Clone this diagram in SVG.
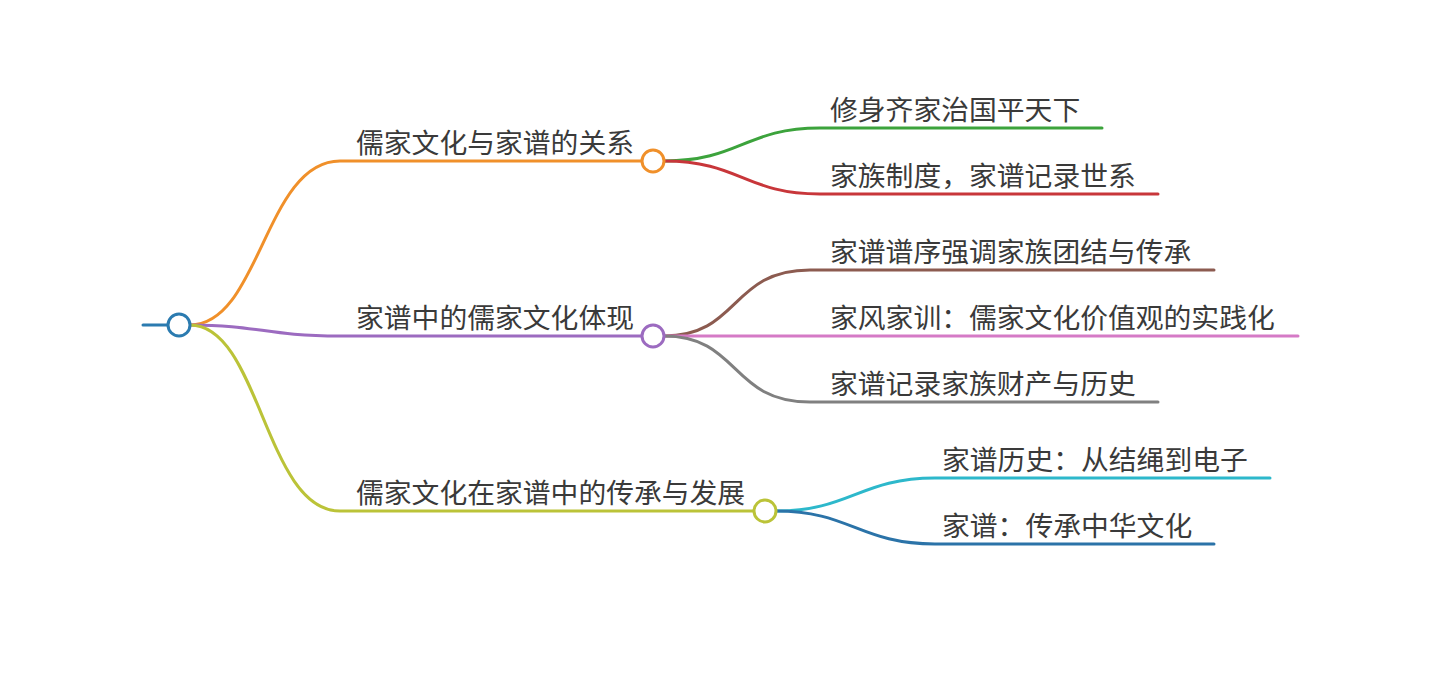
<svg xmlns="http://www.w3.org/2000/svg" width="1440" height="676" viewBox="0 0 1440 676">
<style>
.t{font-family:"Noto Sans CJK SC","Noto Sans",sans-serif;font-size:27.8px;fill:#3a3a3a}
.l{fill:none;stroke-width:3;stroke-linecap:round}
.c{fill:#fff;stroke-width:3}
</style>
<rect width="1440" height="676" fill="#fff"/>
<g id="connectors">
<path class="l" stroke="#2b7bb0" d="M143,325 H168"/>
<path class="l" stroke="#f0902a" d="M190,325 C260,325 265,161 340,161 H641"/>
<path class="l" stroke="#9c6bc0" d="M190,325 C260,325 265,336 340,336 H641"/>
<path class="l" stroke="#bbc338" d="M190,325 C260,325 265,511 340,511 H753"/>
<path class="l" stroke="#3ca33c" d="M664,161 C740,161 745,128 820,128 H1102"/>
<path class="l" stroke="#c8363a" d="M664,161 C740,161 745,194 820,194 H1158"/>
<path class="l" stroke="#8c5b50" d="M664,336 C740,336 730,270 810,270 H1214"/>
<path class="l" stroke="#d57ac6" d="M664,336 H1298"/>
<path class="l" stroke="#808080" d="M664,336 C740,336 730,402 810,402 H1158"/>
<path class="l" stroke="#2db8cb" d="M776,511 C850,511 860,478 935,478 H1270"/>
<path class="l" stroke="#2b73a8" d="M776,511 C850,511 860,544 935,544 H1214"/>
</g>
<g id="root"><circle class="c" cx="179" cy="325" r="11" stroke="#2b7bb0"/></g>
<g id="n1"><text class="t" x="356" y="153">儒家文化与家谱的关系</text><circle class="c" cx="653" cy="161" r="11" stroke="#f0902a"/></g>
<g id="n1a"><text class="t" x="830" y="120">修身齐家治国平天下</text></g>
<g id="n1b"><text class="t" x="830" y="186">家族制度，家谱记录世系</text></g>
<g id="n2"><text class="t" x="356" y="328">家谱中的儒家文化体现</text><circle class="c" cx="653" cy="336" r="11" stroke="#9c6bc0"/></g>
<g id="n2a"><text class="t" x="830" y="262">家谱谱序强调家族团结与传承</text></g>
<g id="n2b"><text class="t" x="830" y="328">家风家训：儒家文化价值观的实践化</text></g>
<g id="n2c"><text class="t" x="830" y="394">家谱记录家族财产与历史</text></g>
<g id="n3"><text class="t" x="356" y="503">儒家文化在家谱中的传承与发展</text><circle class="c" cx="765" cy="511" r="11" stroke="#bbc338"/></g>
<g id="n3a"><text class="t" x="942" y="470">家谱历史：从结绳到电子</text></g>
<g id="n3b"><text class="t" x="942" y="536">家谱：传承中华文化</text></g>
</svg>
